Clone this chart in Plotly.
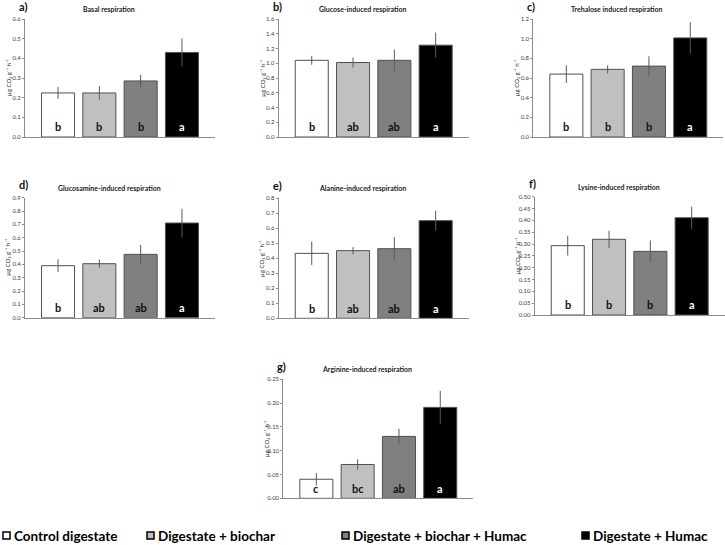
import plotly.graph_objects as go

W, H = 725, 545

treatments = ["Control digestate", "Digestate + biochar", "Digestate + biochar + Humac", "Digestate + Humac"]
colors = ["#ffffff", "#c0c0c0", "#808080", "#000000"]

basal = [0.224, 0.224, 0.285, 0.430]
basal_err = [0.030, 0.034, 0.031, 0.071]
basal_let = ["b", "b", "b", "a"]

glucose = [1.04, 1.01, 1.04, 1.245]
glucose_err = [0.06, 0.067, 0.145, 0.17]
glucose_let = ["b", "ab", "ab", "a"]

trehalose = [0.64, 0.688, 0.721, 1.008]
trehalose_err = [0.09, 0.042, 0.10, 0.16]
trehalose_let = ["b", "b", "b", "a"]

glucosamine = [0.39, 0.405, 0.475, 0.71]
glucosamine_err = [0.047, 0.03, 0.07, 0.107]
glucosamine_let = ["b", "ab", "ab", "a"]

alanine = [0.433, 0.451, 0.464, 0.651]
alanine_err = [0.078, 0.024, 0.078, 0.067]
alanine_let = ["b", "ab", "ab", "a"]

lysine = [0.293, 0.32, 0.269, 0.411]
lysine_err = [0.042, 0.036, 0.046, 0.047]
lysine_let = ["b", "b", "b", "a"]

arginine = [0.040, 0.071, 0.130, 0.191]
arginine_err = [0.013, 0.011, 0.016, 0.035]
arginine_let = ["c", "bc", "ab", "a"]

y_title = "µg CO₂ g⁻¹ h⁻¹"

panels = [
    # label, title, values, errors, letters, ymax, dtick, fmt, x0px, ytop_px, ybot_px
    ("a)", "Basal respiration", basal, basal_err, basal_let, 0.6, 0.1, ".1f", 25, 19, 137),
    ("b)", "Glucose-induced respiration", glucose, glucose_err, glucose_let, 1.6, 0.2, ".1f", 278.7, 19, 137),
    ("c)", "Trehalose induced respiration", trehalose, trehalose_err, trehalose_let, 1.2, 0.2, ".1f", 533.3, 19, 137),
    ("d)", "Glucosamine-induced respiration", glucosamine, glucosamine_err, glucosamine_let, 0.9, 0.1, ".1f", 25, 197.7, 317.7),
    ("e)", "Alanine-induced respiration", alanine, alanine_err, alanine_let, 0.8, 0.1, ".1f", 278.7, 198.3, 318.3),
    ("f)", "Lysine-induced respiration", lysine, lysine_err, lysine_let, 0.5, 0.05, ".2f", 534.7, 196.7, 315),
    ("g)", "Arginine-induced respiration", arginine, arginine_err, arginine_let, 0.25, 0.05, ".2f", 283.3, 379.3, 498.3),
]

FONT = "Lato"
fig = go.Figure()
annotations = []
shapes = []
PW = 190  # plot width px

for i, (lab, title, vals, errs, lets, ymax, dtick, fmt, x0, yt, yb) in enumerate(panels):
    n = "" if i == 0 else str(i + 1)
    xa, ya = "x" + n, "y" + n
    fig.add_trace(go.Bar(
        x=[0, 1, 2, 3], y=vals, width=0.8,
        marker=dict(color=colors, line=dict(color="#505050", width=1)),
        error_y=dict(type="data", array=errs, visible=True, color="#5a5a5a", thickness=1, width=0),
        xaxis=xa, yaxis=ya, showlegend=False, hoverinfo="y",
    ))
    xd = [x0 / W, (x0 + PW) / W]
    yd = [1 - yb / H, 1 - yt / H]
    fig.update_layout(**{
        "xaxis" + n: dict(domain=xd, range=[-0.8, 3.8], showticklabels=False, ticks="",
                          showline=True, linecolor="#8c8c8c", linewidth=1, showgrid=False,
                          zeroline=False, anchor=ya, fixedrange=True, automargin=False),
        "yaxis" + n: dict(domain=yd, range=[0, ymax], dtick=dtick, tickformat=fmt,
                          showline=True, linecolor="#8c8c8c", linewidth=1, showgrid=False,
                          zeroline=False, ticks="outside", ticklen=2, tickcolor="#8c8c8c",
                          tickfont=dict(family=FONT, size=6, color="#404040"),
                          anchor=xa, fixedrange=True, automargin=False),
    })
    # panel title
    annotations.append(dict(text="<b>" + title + "</b>", xref="paper", yref="paper",
                            x=(x0 + 84) / W, y=1 - (yt - 10) / H, showarrow=False,
                            font=dict(family=FONT, size=7, color="#222222"),
                            xanchor="center", yanchor="middle"))
    # panel label
    annotations.append(dict(text="<b>" + lab + "</b>", xref="paper", yref="paper",
                            x=(x0 - 8) / W, y=1 - (yt - 13) / H, showarrow=False,
                            font=dict(family=FONT, size=11, color="#111111"),
                            xanchor="left", yanchor="middle"))
    # y axis title
    annotations.append(dict(text=y_title, xref="paper",
                            yref="paper", x=(x0 - 17) / W, y=1 - ((yt + yb) / 2) / H,
                            showarrow=False, textangle=-90,
                            font=dict(family=FONT, size=6, color="#222222"),
                            xanchor="center", yanchor="middle"))
    # letters
    for j, L in enumerate(lets):
        annotations.append(dict(text="<b>" + L + "</b>", xref=xa, yref=ya + " domain",
                                x=j, y=0.085, showarrow=False,
                                font=dict(family=FONT, size=11,
                                          color="#ffffff" if j == 3 else "#111111"),
                                xanchor="center", yanchor="middle"))

# legend
leg_x = [3, 147, 342, 582]
for name, col, lx in zip(treatments, colors, leg_x):
    shapes.append(dict(type="rect", xref="paper", yref="paper",
                       x0=lx / W, x1=(lx + 7) / W, y0=1 - 539 / H, y1=1 - 532 / H,
                       fillcolor=col, line=dict(color="#000000", width=1.5)))
    annotations.append(dict(text="<b>" + name + "</b>", xref="paper", yref="paper",
                            x=(lx + 9) / W, y=1 - 535.5 / H, showarrow=False,
                            font=dict(family=FONT, size=13.5, color="#000000"),
                            xanchor="left", yanchor="middle"))

fig.update_layout(width=W, height=H, margin=dict(l=0, r=0, t=0, b=0, autoexpand=False),
                  paper_bgcolor="white", plot_bgcolor="white",
                  annotations=annotations, shapes=shapes, bargap=0.2)
fig.write_html("out.html", config={"displayModeBar": False},
               post_script="document.body.style.margin='0';document.body.style.padding='0';"
                           "document.body.style.overflow='hidden';")
